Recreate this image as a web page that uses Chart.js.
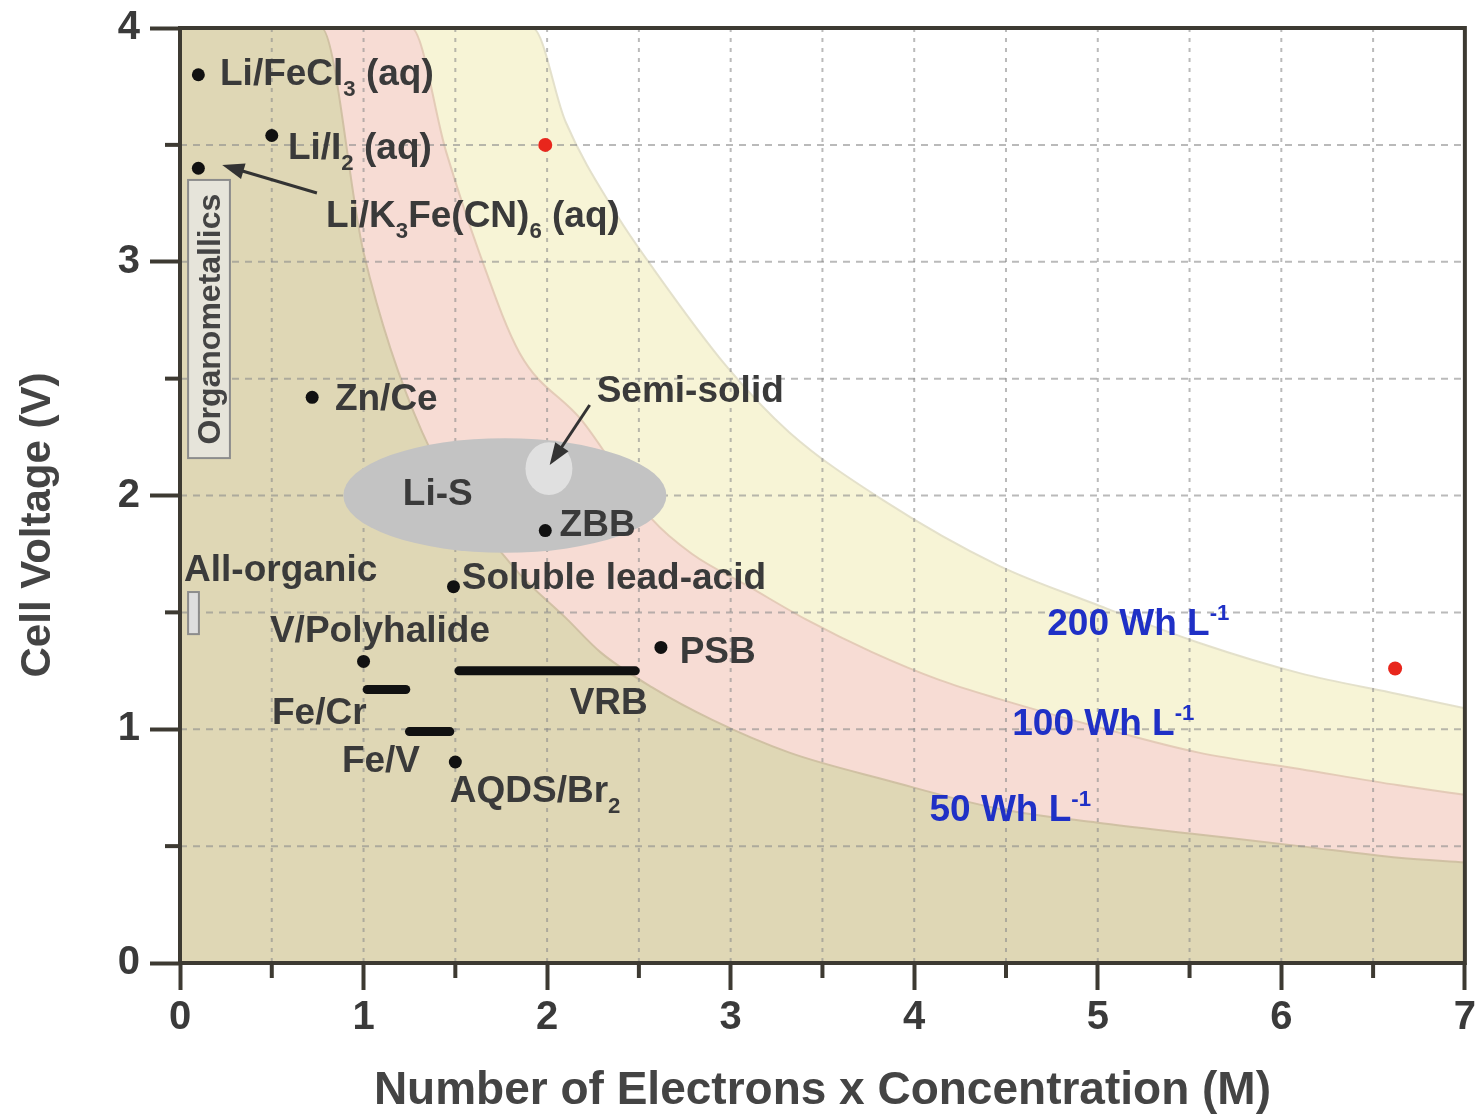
<!DOCTYPE html>
<html>
<head>
<meta charset="utf-8">
<title>Cell voltage x electrons x concentration</title>
<script src="https://cdn.jsdelivr.net/npm/chart.js@4.4.1/dist/chart.umd.min.js"></script>
<style>
  html, body { margin: 0; padding: 0; background: #fff; }
  #wrap { width: 1480px; height: 1114px; }
</style>
</head>
<body>
<div id="wrap"><canvas id="grafico" width="1480" height="1114"></canvas></div>
<script>
// boundary curves of the energy density bands
var band50X  = [0, 0.77, 1.0, 1.32, 1.81, 2.11, 2.29, 2.57, 2.9, 3.32, 3.86, 4.46, 5.0, 5.55, 6.1, 6.64, 7.0];
var band50Y  = [4, 4.0, 3.04, 2.27, 1.70, 1.47, 1.33, 1.18, 1.04, 0.90, 0.78, 0.66, 0.60, 0.55, 0.50, 0.45, 0.43];
var band100X = [0, 1.26, 1.45, 1.63, 1.85, 2.19, 2.57, 2.79, 3.1, 3.41, 3.77, 4.14, 4.46, 5.0, 5.55, 6.1, 6.64, 7.0];
var band100Y = [4, 4.0, 3.47, 3.04, 2.61, 2.32, 1.90, 1.75, 1.61, 1.47, 1.33, 1.21, 1.13, 1.01, 0.90, 0.83, 0.76, 0.72];
var band200X = [0, 1.92, 2.1, 2.38, 2.57, 2.98, 3.32, 3.83, 4.46, 4.97, 5.55, 6.1, 6.64, 7.0];
var band200Y = [4, 4.0, 3.6, 3.2, 2.98, 2.55, 2.27, 1.98, 1.70, 1.54, 1.37, 1.24, 1.15, 1.09];

// chemistries (black dots)
var pontoNomes = ['Li/FeCl3', 'Li/I2', 'Li/K3Fe(CN)6', 'Zn/Ce', 'ZBB', 'Soluble lead-acid', 'V/Polyhalide', 'PSB', 'AQDS/Br2'];
var pontoX = [0.1, 0.5, 0.1, 0.72, 1.99, 1.49, 1.0, 2.62, 1.5];
var pontoY = [3.8, 3.54, 3.4, 2.42, 1.85, 1.61, 1.29, 1.35, 0.86];

// red dots
var vermelhoX = [1.99, 6.62];
var vermelhoY = [3.5, 1.26];

// ranges drawn as thick bars
var barraNomes = ['Fe/Cr', 'Fe/V', 'VRB'];
var barraIni = [1.02, 1.25, 1.52];
var barraFim = [1.23, 1.47, 2.48];
var barraY = [1.17, 0.99, 1.25];

var xTickLabels = ['0', '1', '2', '3', '4', '5', '6', '7'];
var yTickLabels = ['0', '1', '2', '3', '4'];

// text annotations: text, x, y (data units), colour
var AZUL = '#1f30c6';
var TEXTO = '#3a3a3a';
var rotulos = [
  ['Li/FeCl_{3} (aq)', 0.218, 3.812, TEXTO],
  ['Li/I_{2} (aq)', 0.588, 3.495, TEXTO],
  ['Li/K_{3}Fe(CN)_{6} (aq)', 0.795, 3.204, TEXTO],
  ['Zn/Ce', 0.844, 2.421, TEXTO],
  ['Semi-solid', 2.27, 2.456, TEXTO],
  ['Li-S', 1.214, 2.015, TEXTO],
  ['ZBB', 2.068, 1.882, TEXTO],
  ['All-organic', 0.022, 1.69, TEXTO],
  ['Soluble lead-acid', 1.535, 1.656, TEXTO],
  ['V/Polyhalide', 0.49, 1.429, TEXTO],
  ['PSB', 2.722, 1.339, TEXTO],
  ['Fe/Cr', 0.501, 1.078, TEXTO],
  ['VRB', 2.123, 1.121, TEXTO],
  ['Fe/V', 0.882, 0.873, TEXTO],
  ['AQDS/Br_{2}', 1.47, 0.744, TEXTO],
  ['200 Wh L^{-1}', 4.725, 1.459, AZUL],
  ['100 Wh L^{-1}', 4.534, 1.031, AZUL],
  ['50 Wh L^{-1}', 4.083, 0.663, AZUL]
];

var FONTE = '"Liberation Sans", Arial, sans-serif';
var MOLDURA = '#3d3a32';

function pts(xs, ys) {
  return xs.map(function (x, i) { return { x: x, y: ys[i] }; });
}

function desenharTexto(ctx, str, x, y, size, color) {
  // _{..} = subscript, ^{..} = superscript
  var partes = str.split(/(_\{[^}]*\}|\^\{[^}]*\})/);
  var base = y + size * 0.36;
  ctx.fillStyle = color;
  ctx.textBaseline = 'alphabetic';
  ctx.textAlign = 'left';
  partes.forEach(function (p) {
    if (!p) return;
    var s = size, dy = 0, t = p;
    if (p[0] === '_') { t = p.slice(2, -1); s = size * 0.6; dy = size * 0.28; }
    else if (p[0] === '^') { t = p.slice(2, -1); s = size * 0.6; dy = -size * 0.42; }
    ctx.font = 'bold ' + s + 'px ' + FONTE;
    ctx.fillText(t, x, base + dy);
    x += ctx.measureText(t).width;
  });
}

function seta(ctx, x1, y1, x2, y2) {
  var a = Math.atan2(y2 - y1, x2 - x1), c = Math.cos(a), s = Math.sin(a);
  ctx.strokeStyle = '#333';
  ctx.fillStyle = '#333';
  ctx.lineWidth = 3;
  ctx.beginPath();
  ctx.moveTo(x1, y1);
  ctx.lineTo(x2 - 14 * c, y2 - 14 * s);
  ctx.stroke();
  ctx.beginPath();
  ctx.moveTo(x2, y2);
  ctx.lineTo(x2 - 22 * c + 8 * s, y2 - 22 * s - 8 * c);
  ctx.lineTo(x2 - 22 * c - 8 * s, y2 - 22 * s + 8 * c);
  ctx.closePath();
  ctx.fill();
}

// grid + shapes go right after the last band so they sit under the dots
var extras = {
  id: 'extras',
  afterDatasetDraw: function (chart, args) {
    if (chart.data.datasets[args.index].label !== 'tan') return;
    var ctx = chart.ctx, a = chart.chartArea, sx = chart.scales.x, sy = chart.scales.y;
    ctx.save();
    ctx.strokeStyle = 'rgba(140,140,140,0.6)';
    ctx.lineWidth = 2;
    ctx.setLineDash([4, 6]);
    sx.ticks.forEach(function (t) {
      if (t.value <= 0 || t.value >= 7) return;
      var x = sx.getPixelForValue(t.value);
      ctx.beginPath(); ctx.moveTo(x, a.top); ctx.lineTo(x, a.bottom); ctx.stroke();
    });
    ctx.setLineDash([7, 6]);
    sy.ticks.forEach(function (t) {
      if (t.value <= 0 || t.value >= 4) return;
      var y = sy.getPixelForValue(t.value);
      ctx.beginPath(); ctx.moveTo(a.left, y); ctx.lineTo(a.right, y); ctx.stroke();
    });
    ctx.setLineDash([]);

    // Li-S and semi-solid regions
    var elipses = [[1.77, 2.0, 0.88, 0.245, '#c3c3c3'], [2.01, 2.115, 0.128, 0.113, '#e0e0e0']];
    elipses.forEach(function (e) {
      var cx = sx.getPixelForValue(e[0]), cy = sy.getPixelForValue(e[1]);
      var rx = sx.getPixelForValue(e[0] + e[2]) - cx, ry = cy - sy.getPixelForValue(e[1] + e[3]);
      ctx.fillStyle = e[4];
      ctx.beginPath(); ctx.ellipse(cx, cy, rx, ry, 0, 0, Math.PI * 2); ctx.fill();
    });

    // organometallics and all-organic boxes
    var caixas = [[0.044, 0.272, 2.16, 3.35, '#e6e4da'], [0.044, 0.103, 1.407, 1.587, '#dedede']];
    caixas.forEach(function (b) {
      var x1 = sx.getPixelForValue(b[0]), x2 = sx.getPixelForValue(b[1]);
      var y1 = sy.getPixelForValue(b[3]), y2 = sy.getPixelForValue(b[2]);
      ctx.fillStyle = b[4];
      ctx.fillRect(x1, y1, x2 - x1, y2 - y1);
      ctx.strokeStyle = '#8c8c8c';
      ctx.lineWidth = 2;
      ctx.strokeRect(x1, y1, x2 - x1, y2 - y1);
    });
    ctx.restore();
  },
  afterDraw: function (chart) {
    var ctx = chart.ctx, a = chart.chartArea, sx = chart.scales.x, sy = chart.scales.y;
    ctx.save();
    // frame
    ctx.strokeStyle = MOLDURA;
    ctx.lineWidth = 4;
    ctx.strokeRect(a.left, a.top, a.right - a.left, a.bottom - a.top);
    // minor ticks
    sx.ticks.forEach(function (t) {
      if (Number.isInteger(t.value)) return;
      var x = sx.getPixelForValue(t.value);
      ctx.beginPath(); ctx.moveTo(x, a.bottom); ctx.lineTo(x, a.bottom + 15); ctx.stroke();
    });
    sy.ticks.forEach(function (t) {
      if (Number.isInteger(t.value)) return;
      var y = sy.getPixelForValue(t.value);
      ctx.beginPath(); ctx.moveTo(a.left - 15, y); ctx.lineTo(a.left, y); ctx.stroke();
    });

    // arrows
    seta(ctx, sx.getPixelForValue(0.746), sy.getPixelForValue(3.294), sx.getPixelForValue(0.23), sy.getPixelForValue(3.414));
    seta(ctx, sx.getPixelForValue(2.232), sy.getPixelForValue(2.387), sx.getPixelForValue(2.014), sy.getPixelForValue(2.13));

    // labels
    rotulos.forEach(function (r) {
      desenharTexto(ctx, r[0], sx.getPixelForValue(r[1]), sy.getPixelForValue(r[2]), 37, r[3]);
    });

    // vertical texts
    ctx.fillStyle = '#444';
    ctx.textAlign = 'center';
    ctx.textBaseline = 'middle';
    ctx.save();
    ctx.translate(sx.getPixelForValue(0.158), sy.getPixelForValue(2.755));
    ctx.rotate(-Math.PI / 2);
    ctx.font = 'bold 32px ' + FONTE;
    ctx.fillText('Organometallics', 0, 2);
    ctx.restore();

    ctx.save();
    ctx.translate(38, 525);
    ctx.rotate(-Math.PI / 2);
    ctx.font = 'bold 42px ' + FONTE;
    ctx.fillText('Cell Voltage (V)', 0, 0);
    ctx.restore();
    ctx.restore();
  }
};

var corTick = function (c) {
  return c.tick && Number.isInteger(c.tick.value) ? MOLDURA : 'rgba(0,0,0,0)';
};

var ctx = document.getElementById('grafico');
var grafico = new Chart(ctx, {
  type: 'scatter',
  data: {
    datasets: [
      {
        type: 'scatter', label: 'pontos', data: pts(pontoX, pontoY),
        pointRadius: 6.5, backgroundColor: '#111', borderWidth: 0, order: 0
      },
      {
        type: 'scatter', label: 'vermelhos', data: pts(vermelhoX, vermelhoY),
        pointRadius: 7, backgroundColor: '#e8261c', borderWidth: 0, order: 0
      },
      {
        type: 'line', label: barraNomes[0],
        data: [{ x: barraIni[0], y: barraY[0] }, { x: barraFim[0], y: barraY[0] }],
        borderColor: '#111', borderWidth: 9, borderCapStyle: 'round', pointRadius: 0, order: 0
      },
      {
        type: 'line', label: barraNomes[1],
        data: [{ x: barraIni[1], y: barraY[1] }, { x: barraFim[1], y: barraY[1] }],
        borderColor: '#111', borderWidth: 9, borderCapStyle: 'round', pointRadius: 0, order: 0
      },
      {
        type: 'line', label: barraNomes[2],
        data: [{ x: barraIni[2], y: barraY[2] }, { x: barraFim[2], y: barraY[2] }],
        borderColor: '#111', borderWidth: 9, borderCapStyle: 'round', pointRadius: 0, order: 0
      },
      {
        type: 'line', label: 'tan', data: pts(band50X, band50Y), fill: 'origin',
        backgroundColor: '#dfd7b5', borderColor: 'rgba(205,190,160,0.9)', borderWidth: 2,
        pointRadius: 0, cubicInterpolationMode: 'monotone', order: 1
      },
      {
        type: 'line', label: 'pink', data: pts(band100X, band100Y), fill: 'origin',
        backgroundColor: '#f7dcd4', borderColor: 'rgba(225,200,180,0.9)', borderWidth: 2,
        pointRadius: 0, cubicInterpolationMode: 'monotone', order: 2
      },
      {
        type: 'line', label: 'yellow', data: pts(band200X, band200Y), fill: 'origin',
        backgroundColor: '#f7f4d6', borderColor: 'rgba(225,222,200,0.9)', borderWidth: 2,
        pointRadius: 0, cubicInterpolationMode: 'monotone', order: 3
      }
    ]
  },
  options: {
    responsive: false,
    animation: false,
    events: [],
    layout: { padding: { top: 28, right: 14, left: 0, bottom: 0 } },
    plugins: { legend: { display: false }, tooltip: { enabled: false } },
    scales: {
      x: {
        type: 'linear', min: 0, max: 7,
        afterFit: function (s) { s.height = 151; },
        ticks: {
          stepSize: 0.5, autoSkip: false, maxRotation: 0, padding: 4, color: TEXTO,
          font: { family: FONTE, size: 40, weight: 'bold' },
          callback: function (v) { return Number.isInteger(v) ? xTickLabels[v] : ''; }
        },
        grid: { drawOnChartArea: false, drawTicks: true, tickLength: 27, tickWidth: 4, tickColor: corTick },
        border: { display: false },
        title: {
          display: true, text: 'Number of Electrons x Concentration (M)', color: '#444', padding: 0,
          font: { family: FONTE, size: 46, weight: 'bold', lineHeight: 1 }
        }
      },
      y: {
        type: 'linear', min: 0, max: 4,
        afterFit: function (s) { s.width = 180; s.paddingTop = 0; s.paddingBottom = 0; },
        ticks: {
          stepSize: 0.5, autoSkip: false, padding: 10, color: TEXTO,
          font: { family: FONTE, size: 40, weight: 'bold' },
          callback: function (v) { return Number.isInteger(v) ? yTickLabels[v] : ''; }
        },
        grid: { drawOnChartArea: false, drawTicks: true, tickLength: 30, tickWidth: 4, tickColor: corTick },
        border: { display: false }
      }
    }
  },
  plugins: [extras]
});
</script>
</body>
</html>
